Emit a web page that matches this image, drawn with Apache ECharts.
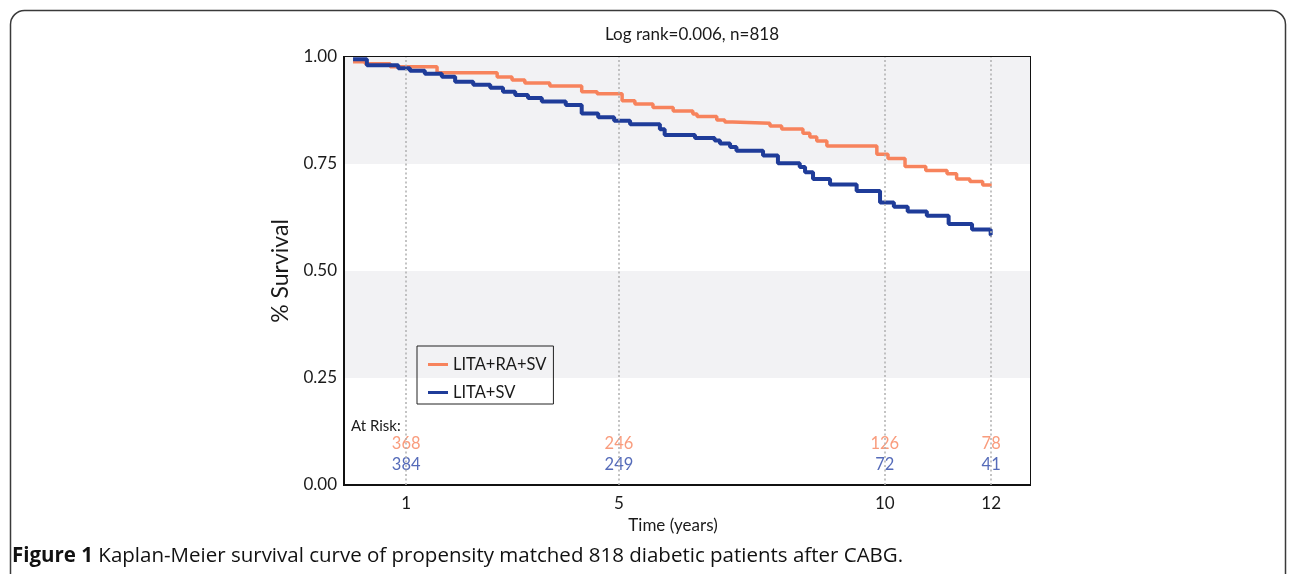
<!DOCTYPE html>
<html><head><meta charset="utf-8">
<script src="https://cdn.jsdelivr.net/npm/echarts@6/dist/echarts.min.js"></script>
<style>html,body{margin:0;padding:0;background:#fff}#c{width:1292px;height:574px}</style>
</head><body><div id="c"></div>
<script>
const titleText = 'Log rank=0.006, n=818';
const captionBold = 'Figure 1';
const captionText = ' Kaplan-Meier survival curve of propensity matched 818 diabetic patients after CABG.';
const seriesNames = ['LITA+RA+SV', 'LITA+SV'];
const redTime = [0, 0.23, 0.70, 1.58, 2.71, 2.99, 3.23, 3.70, 4.30, 4.59, 5.06, 5.30, 5.64, 6.02, 6.39, 6.47, 6.84, 6.99, 7.14, 7.84, 8.06, 8.46, 8.59, 8.72, 8.91, 9.85, 10.06, 10.38, 10.77, 11.17, 11.35, 11.60, 11.84, 12.01];
const redSurv = [0.989, 0.984, 0.977, 0.963, 0.953, 0.946, 0.939, 0.932, 0.919, 0.914, 0.898, 0.890, 0.882, 0.874, 0.867, 0.861, 0.853, 0.848, 0.845, 0.839, 0.832, 0.822, 0.813, 0.804, 0.792, 0.773, 0.763, 0.744, 0.735, 0.727, 0.715, 0.709, 0.701, 0.701];
const blueTime = [0, 0.26, 0.85, 1.07, 1.35, 1.67, 1.92, 2.26, 2.58, 2.82, 3.05, 3.29, 3.55, 4.00, 4.30, 4.61, 4.91, 5.21, 5.77, 5.86, 6.43, 6.80, 6.90, 7.09, 7.21, 7.71, 7.99, 8.40, 8.50, 8.65, 8.97, 9.47, 9.91, 10.17, 10.43, 10.79, 11.20, 11.64, 11.99, 12.01];
const blueSurv = [0.995, 0.981, 0.974, 0.968, 0.961, 0.954, 0.942, 0.935, 0.928, 0.919, 0.911, 0.904, 0.896, 0.888, 0.868, 0.859, 0.851, 0.843, 0.831, 0.818, 0.811, 0.805, 0.798, 0.790, 0.781, 0.770, 0.752, 0.743, 0.731, 0.715, 0.702, 0.687, 0.660, 0.650, 0.639, 0.629, 0.610, 0.597, 0.584, 0.584];
const tickYears = [1, 5, 10, 12];
const atRiskRed = [368, 246, 126, 78];
const atRiskBlue = [384, 249, 72, 41];
const atRiskLabel = 'At Risk:';
const xName = 'Time (years)';
const yName = '% Survival';

const RED = '#f7835c', BLUE = '#1f3c99';
const FONT = 'Lato';
const zip = (a, b) => a.map((v, i) => [v, b[i]]);

const chart = echarts.init(document.getElementById('c'), null, {renderer: 'canvas'});
chart.setOption({
  animation: false,
  textStyle: {fontFamily: FONT},
  grid: {left: 344, right: 262, top: 57, bottom: 89, show: true, borderColor: '#111', borderWidth: 2, backgroundColor: 'transparent'},
  xAxis: {
    type: 'value', min: -0.17, max: 12.73,
    axisLine: {show: true, onZero: false, lineStyle: {color: '#111', width: 2}},
    axisTick: {show: false},
    splitLine: {show: false},
    axisLabel: {customValues: tickYears, fontSize: 17, color: '#1a1a1a', margin: 10, fontFamily: FONT},
    name: xName, nameLocation: 'middle', nameGap: 21,
    nameTextStyle: {fontSize: 17, color: '#1a1a1a', fontFamily: FONT, padding: [0, 28, 0, 0]}
  },
  yAxis: {
    type: 'value', min: 0, max: 1, interval: 0.25,
    axisLine: {show: true, onZero: false, lineStyle: {color: '#111', width: 2}},
    axisTick: {show: false},
    splitLine: {show: false},
    splitArea: {show: true, areaStyle: {color: ['#ffffff', '#f2f2f4']}},
    axisLabel: {formatter: v => v.toFixed(2), fontSize: 17, color: '#1a1a1a', margin: 7, fontFamily: FONT},
    name: yName, nameLocation: 'middle', nameGap: 43,
    nameTextStyle: {fontSize: 23, color: '#1a1a1a', fontFamily: FONT}
  },
  legend: {
    data: seriesNames, orient: 'vertical', left: 417, top: 346,
    icon: 'rect', itemWidth: 20, itemHeight: 3, itemGap: 11,
    borderColor: '#222', borderWidth: 1, padding: [10, 7, 3, 11],
    textStyle: {fontSize: 16.5, color: '#1a1a1a', fontFamily: FONT}
  },
  series: [
    {
      name: 'riskRed', type: 'scatter', data: zip(tickYears, tickYears.map(() => 0.097)), symbolSize: 0, z: 1, silent: true,
      label: {show: true, position: 'inside', formatter: p => String(atRiskRed[p.dataIndex]), color: RED, fontSize: 16.5, fontFamily: FONT},
      markLine: {silent: true, symbol: ['none', 'none'], label: {show: false},
        lineStyle: {type: [2, 2.5], color: '#b0b0b0', width: 1.5},
        data: tickYears.map(t => ({xAxis: t}))}
    },
    {
      name: 'riskBlue', type: 'scatter', data: zip(tickYears, tickYears.map(() => 0.047)), symbolSize: 0, z: 1, silent: true,
      label: {show: true, position: 'inside', formatter: p => String(atRiskBlue[p.dataIndex]), color: '#2a46a8', fontSize: 16.5, fontFamily: FONT}
    },
    {name: seriesNames[0], type: 'line', step: 'end', data: zip(redTime, redSurv), showSymbol: false, z: 3,
      lineStyle: {color: RED, width: 3.5}, itemStyle: {color: RED}},
    {name: seriesNames[1], type: 'line', step: 'end', data: zip(blueTime, blueSurv), showSymbol: false, z: 4,
      lineStyle: {color: BLUE, width: 4}, itemStyle: {color: BLUE}}
  ],
  graphic: [
    {type: 'rect', z: 100, shape: {x: 10.5, y: 10.5, width: 1275, height: 700, r: 14}, style: {fill: 'none', stroke: '#3a3a3a', lineWidth: 1.5}, silent: true},
    {type: 'text', z: 100, x: 692, y: 35, style: {text: titleText, font: '17px ' + FONT, fill: '#1a1a1a', align: 'center', verticalAlign: 'middle'}},
    {type: 'text', z: 100, x: 351, y: 426, style: {text: atRiskLabel, font: '15px ' + FONT, fill: '#1a1a1a', align: 'left', verticalAlign: 'middle'}},
    {type: 'text', z: 100, x: 12, y: 556, style: {
      text: '{b|' + captionBold + '}{n|' + captionText + '}', verticalAlign: 'middle', align: 'left',
      rich: {b: {fontFamily: 'Open Sans', fontWeight: 'bold', fontSize: 20.5, fill: '#111', color: '#111'}, n: {fontFamily: 'Open Sans', fontSize: 20.5, fill: '#111', color: '#111'}}}}
  ]
});
</script></body></html>
